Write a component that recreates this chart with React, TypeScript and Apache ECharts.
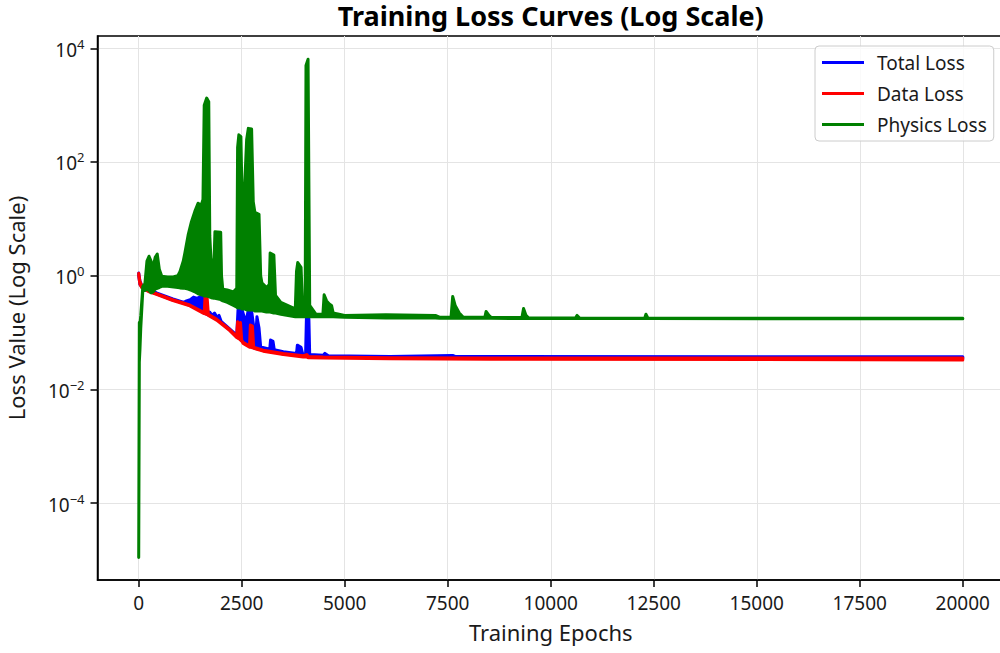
import React, { useEffect, useRef } from 'react';
import * as echarts from 'echarts';

const FONT = '"Noto Sans", "Open Sans", "DejaVu Sans", sans-serif';
const TEXT = '#1a1a1a';

// axis ticks
const xTicks = [0, 2500, 5000, 7500, 10000, 12500, 15000, 17500, 20000];
const yTicks = [1e-4, 1e-2, 1, 1e2, 1e4];
const xMin = -1000;
const xMax = 21000;
const yMin = 4.44e-6;
const yMax = 16440;

// Total loss: per-epoch-bin min / max
const totalEpochs = [0, 30, 80, 150, 270, 430, 830, 1100, 1160, 1250, 1330, 1420, 1500, 1570, 1600, 1680, 1720, 1780, 1840, 1900, 1950, 2000, 2200, 2380, 2410, 2460, 2510, 2550, 2600, 2650, 2740, 2790, 2830, 2870, 2920, 2960, 3180, 3200, 3260, 3290, 3510, 3830, 3850, 3940, 3980, 4050, 4070, 4130, 4150, 4480, 4520, 4600, 6100, 7620, 7680, 20000];
const totalLow = [1.0, 0.7, 0.62, 0.58, 0.525, 0.48, 0.372, 0.325, 0.315, 0.3, 0.28, 0.26, 0.245, 0.225, 0.22, 0.205, 0.2, 0.19, 0.18, 0.17, 0.16, 0.15, 0.112, 0.085, 0.082, 0.077, 0.07, 0.066, 0.062, 0.059, 0.056, 0.054, 0.053, 0.052, 0.051, 0.05, 0.047, 0.047, 0.046, 0.046, 0.042, 0.04, 0.04, 0.039, 0.039, 0.038, 0.038, 0.038, 0.038, 0.037, 0.037, 0.037, 0.036, 0.036, 0.036, 0.0355];
const totalHigh = [1.12, 0.8, 0.66, 0.6, 0.545, 0.5, 0.39, 0.34, 0.36, 0.38, 0.42, 0.4, 0.43, 0.44, 0.3, 0.215, 0.23, 0.2, 0.22, 0.185, 0.2, 0.158, 0.117, 0.09, 0.25, 0.24, 0.25, 0.2, 0.15, 0.23, 0.24, 0.13, 0.065, 0.19, 0.12, 0.056, 0.051, 0.074, 0.07, 0.05, 0.046, 0.043, 0.06, 0.055, 0.042, 0.041, 0.178, 0.175, 0.041, 0.04, 0.043, 0.039, 0.038, 0.0395, 0.038, 0.0375];

// Data loss
const dataEpochs = [0, 30, 80, 150, 270, 430, 830, 1240, 1565, 1590, 1610, 1660, 1690, 1890, 2210, 2375, 2400, 2430, 2470, 2500, 2535, 2690, 2710, 2760, 2790, 3020, 3510, 3990, 4080, 4120, 4480, 6100, 8530, 20000];
const dataLow = [1.0, 0.7, 0.61, 0.57, 0.515, 0.47, 0.365, 0.295, 0.22, 0.215, 0.213, 0.208, 0.2, 0.165, 0.108, 0.082, 0.08, 0.078, 0.074, 0.071, 0.064, 0.055, 0.055, 0.054, 0.053, 0.047, 0.041, 0.037, 0.037, 0.036, 0.0355, 0.0345, 0.034, 0.033];
const dataHigh = [1.1, 0.8, 0.65, 0.59, 0.53, 0.485, 0.38, 0.305, 0.23, 0.225, 0.43, 0.42, 0.21, 0.172, 0.113, 0.086, 0.155, 0.1, 0.15, 0.074, 0.067, 0.058, 0.136, 0.13, 0.055, 0.049, 0.043, 0.039, 0.041, 0.038, 0.037, 0.036, 0.0355, 0.0355];

// Physics loss
const physicsEpochs = [0, 15, 30, 50, 100, 150, 200, 250, 300, 350, 400, 450, 500, 560, 700, 850, 950, 1000, 1080, 1120, 1200, 1280, 1360, 1440, 1520, 1560, 1590, 1650, 1700, 1725, 1760, 1830, 1850, 1990, 2010, 2040, 2150, 2300, 2380, 2400, 2430, 2480, 2510, 2560, 2620, 2660, 2740, 2780, 2820, 2920, 2960, 2990, 3100, 3170, 3190, 3280, 3320, 3450, 3800, 3830, 3860, 3940, 3980, 4040, 4060, 4110, 4150, 4300, 4470, 4500, 4560, 4620, 4680, 4720, 5000, 6000, 7200, 7300, 7580, 7620, 7680, 7780, 7880, 8400, 8430, 8500, 8560, 9300, 9340, 9400, 9460, 10600, 10640, 10700, 12280, 12310, 12360, 20000];
const physicsLow = [1.1e-5, 0.03, 0.05, 0.12, 0.55, 0.55, 0.58, 0.55, 0.5, 0.52, 0.58, 0.6, 0.62, 0.65, 0.65, 0.63, 0.62, 0.61, 0.6, 0.6, 0.58, 0.55, 0.52, 0.48, 0.46, 0.45, 0.44, 0.44, 0.43, 0.42, 0.41, 0.4, 0.4, 0.38, 0.37, 0.36, 0.34, 0.3, 0.28, 0.27, 0.27, 0.27, 0.26, 0.26, 0.25, 0.25, 0.25, 0.25, 0.24, 0.24, 0.24, 0.24, 0.23, 0.23, 0.23, 0.22, 0.22, 0.21, 0.19, 0.19, 0.19, 0.19, 0.19, 0.19, 0.19, 0.19, 0.19, 0.19, 0.19, 0.19, 0.19, 0.19, 0.19, 0.19, 0.185, 0.18, 0.18, 0.178, 0.178, 0.178, 0.178, 0.178, 0.178, 0.178, 0.178, 0.178, 0.178, 0.177, 0.177, 0.177, 0.177, 0.177, 0.177, 0.177, 0.176, 0.176, 0.176, 0.175];
const physicsHigh = [1.1e-5, 0.15, 0.14, 0.2, 0.65, 0.72, 1.8, 2.2, 1.8, 1.4, 2.1, 2.4, 1.3, 0.98, 0.95, 0.96, 1.0, 1.18, 1.8, 2.5, 5.2, 8.9, 13.4, 18.8, 17.5, 22, 1000, 1330, 1150, 5, 1.6, 2.0, 5.9, 5.8, 1.0, 0.58, 0.56, 0.52, 0.6, 180, 300, 280, 20, 25, 250, 390, 380, 20, 13, 12, 1.0, 0.75, 0.62, 0.7, 2.5, 2.3, 0.45, 0.34, 0.26, 1.2, 1.7, 1.4, 0.26, 0.3, 5000, 6400, 0.3, 0.21, 0.21, 0.46, 0.36, 0.32, 0.3, 0.22, 0.2, 0.205, 0.2, 0.186, 0.186, 0.43, 0.3, 0.22, 0.186, 0.185, 0.235, 0.2, 0.183, 0.183, 0.265, 0.2, 0.182, 0.18, 0.2, 0.18, 0.179, 0.21, 0.179, 0.178];

const BLUE = '#0000ff';
const RED = '#ff0000';
const GREEN = '#008000';

function band(name: string, color: string, epochs: number[], low: number[], high: number[]) {
  return {
    type: 'custom',
    name,
    coordinateSystem: 'cartesian2d',
    clip: true,
    silent: true,
    itemStyle: { color },
    data: [[epochs[0], low[0]]],
    renderItem: (_params: any, api: any) => {
      const top = epochs.map((e, i) => api.coord([e, high[i]]));
      const bottom = epochs.map((e, i) => api.coord([e, low[i]])).reverse();
      return {
        type: 'polygon',
        shape: { points: top.concat(bottom) },
        style: { fill: color, stroke: color, lineWidth: 3, lineJoin: 'round' },
      };
    },
  };
}

function supLabel(v: number) {
  const p = Math.round(Math.log10(v));
  const s = p < 0 ? '\u2212' + Math.abs(p) : String(p);
  return `{b|10}{e|${s}}`;
}

export default function App() {
  const ref = useRef<HTMLDivElement>(null);
  useEffect(() => {
    if (!ref.current) return;
    const chart = echarts.init(ref.current, undefined, { renderer: 'svg' });
    const axisLine = { show: true, onZero: false, lineStyle: { color: '#000', width: 1.5 } };
    const axisTick = { show: true, length: 7, lineStyle: { color: '#000', width: 1.5 } };
    const splitLine = { show: true, lineStyle: { color: '#e4e4e4', width: 1 } };
    chart.setOption({
      animation: false,
      backgroundColor: '#ffffff',
      textStyle: { fontFamily: FONT },
      title: {
        text: 'Training Loss Curves (Log Scale)',
        left: 550.75,
        top: 2,
        padding: 0,
        textAlign: 'center',
        textStyle: { fontFamily: FONT, fontSize: 27, fontWeight: 'bold', color: '#000' },
      },
      grid: {
        left: 97.5,
        right: -4,
        top: 36,
        bottom: 73,
        show: true,
        borderColor: '#000',
        borderWidth: 1.5,
        containLabel: false,
        outerBoundsMode: 'none',
      },
      legend: {
        orient: 'vertical',
        left: 815,
        top: 46,
        padding: [7, 7, 7, 7],
        itemGap: 12,
        itemWidth: 42,
        itemHeight: 3,
        selectedMode: false,
        backgroundColor: 'rgba(255,255,255,0.8)',
        borderColor: '#cccccc',
        borderWidth: 1,
        borderRadius: 4,
        textStyle: { fontFamily: FONT, fontSize: 19, color: TEXT, padding: [0, 0, 0, 8] },
        data: [
          { name: 'Total Loss', icon: 'rect', itemStyle: { color: BLUE } },
          { name: 'Data Loss', icon: 'rect', itemStyle: { color: RED } },
          { name: 'Physics Loss', icon: 'rect', itemStyle: { color: GREEN } },
        ],
      },
      xAxis: {
        type: 'value',
        min: xMin,
        max: xMax,
        name: 'Training Epochs',
        nameLocation: 'middle',
        nameGap: 41,
        nameTextStyle: { fontFamily: FONT, fontSize: 22, color: TEXT },
        axisLine,
        axisTick: { ...axisTick, customValues: xTicks },
        axisLabel: {
          customValues: xTicks,
          margin: 13,
          fontFamily: FONT,
          fontSize: 19,
          color: TEXT,
          formatter: (v: number) => String(v),
        },
        splitLine,
      },
      yAxis: {
        type: 'log',
        logBase: 10,
        min: yMin,
        max: yMax,
        name: 'Loss Value (Log Scale)',
        nameLocation: 'middle',
        nameGap: 71,
        nameTextStyle: { fontFamily: FONT, fontSize: 22, color: TEXT },
        axisLine,
        axisTick: { ...axisTick, customValues: yTicks },
        axisLabel: {
          customValues: yTicks,
          margin: 13,
          formatter: supLabel,
          rich: {
            b: { fontFamily: FONT, fontSize: 19, lineHeight: 22, verticalAlign: 'bottom', color: TEXT },
            e: { fontFamily: FONT, fontSize: 13, lineHeight: 13, verticalAlign: 'top', color: TEXT },
          },
        },
        splitLine,
      },
      series: [
        band('Total Loss', BLUE, totalEpochs, totalLow, totalHigh),
        band('Data Loss', RED, dataEpochs, dataLow, dataHigh),
        band('Physics Loss', GREEN, physicsEpochs, physicsLow, physicsHigh),
      ],
    });
    return () => chart.dispose();
  }, []);
  return <div ref={ref} style={{ position: 'fixed', left: 0, top: 0, width: 1000, height: 653 }} />;
}
